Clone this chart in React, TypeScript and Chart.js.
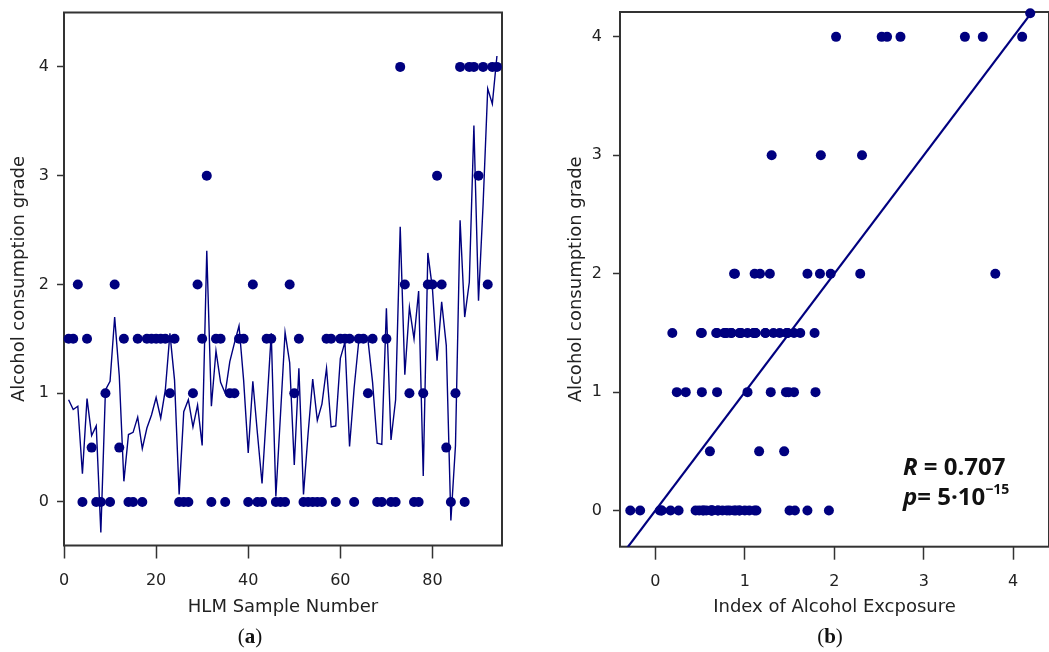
import React, { useEffect, useRef } from "react";
import { Chart, registerables } from "chart.js";

Chart.register(...registerables);

// ---- data ----
const SAMPLE_NUMBERS = [
  1, 2, 3, 4, 5, 6, 7, 8, 9, 10, 11, 12, 13, 14, 15, 16, 17, 18, 19, 20,
  21, 22, 23, 24, 25, 26, 27, 28, 29, 30, 31, 32, 33, 34, 35, 36, 37, 38, 39, 40,
  41, 42, 43, 44, 45, 46, 47, 48, 49, 50, 51, 52, 53, 54, 55, 56, 57, 58, 59, 60,
  61, 62, 63, 64, 65, 66, 67, 68, 69, 70, 71, 72, 73, 74, 75, 76, 77, 78, 79, 80,
  81, 82, 83, 84, 85, 86, 87, 88, 89, 90, 91, 92, 93, 94,
];

// observed alcohol consumption grade per sample
const GRADES = [
  1.5, 1.5, 2, 0, 1.5, 0.5, 0, 0, 1, 0, 2, 0.5, 1.5, 0, 0, 1.5, 0, 1.5, 1.5, 1.5,
  1.5, 1.5, 1, 1.5, 0, 0, 0, 1, 2, 1.5, 3, 0, 1.5, 1.5, 0, 1, 1, 1.5, 1.5, 0,
  2, 0, 0, 1.5, 1.5, 0, 0, 0, 2, 1, 1.5, 0, 0, 0, 0, 0, 1.5, 1.5, 0, 1.5,
  1.5, 1.5, 0, 1.5, 1.5, 1, 1.5, 0, 0, 1.5, 0, 0, 4, 2, 1, 0, 0, 1, 2, 2,
  3, 2, 0.5, 0, 1, 4, 0, 4, 4, 3, 4, 2, 4, 4,
];

// index of alcohol exposure (model output) per sample
const EXPOSURE_INDEX = [
  0.94, 0.85, 0.88, 0.26, 0.95, 0.61, 0.70, -0.28, 1.03, 1.11, 1.70, 1.16, 0.19, 0.62, 0.64, 0.78, 0.49, 0.68, 0.80, 0.96,
  0.77, 1.03, 1.55, 1.12, 0.07, 0.83, 0.94, 0.69, 0.89, 0.52, 2.31, 0.88, 1.39, 1.10, 1.00, 1.29, 1.46, 1.62, 1.12, 0.45,
  1.11, 0.63, 0.17, 0.85, 1.55, 0.05, 0.80, 1.56, 1.28, 0.34, 1.23, 0.07, 0.63, 1.13, 0.75, 0.90, 1.23, 0.69, 0.70, 1.32,
  1.47, 0.51, 1.05, 1.48, 1.47, 1.49, 1.10, 0.54, 0.53, 1.78, 0.57, 0.94, 2.53, 1.17, 1.79, 1.50, 1.94, 0.24, 2.29, 1.96,
  1.30, 1.84, 1.44, -0.17, 0.52, 2.59, 1.70, 2.02, 3.46, 1.85, 2.74, 3.80, 3.66, 4.10,
];

const X_TICKS_A = [0, 20, 40, 60, 80];
const X_TICKS_B = [0, 1, 2, 3, 4];
const Y_TICKS = [0, 1, 2, 3, 4];

const REG_SLOPE = 1.0;
const REG_INTERCEPT = 0.0;
const REG_X_RANGE = [-0.45, 4.19];
const END_POINT = [{ x: 4.19, y: 4.2 }];

const R_VALUE = "0.707";
const P_MANTISSA = "5";
const P_EXPONENT = "\u221215";

const NAVY = "#00007f";
const AXIS = "#333333";
const TEXT = "#222222";

const tickFont = { family: '"DejaVu Sans", sans-serif', size: 16 };
const titleFont = { family: '"DejaVu Sans", sans-serif', size: 18 };

const boxPlugin = {
  id: "box",
  beforeDatasetsDraw(chart: any) {
    const { ctx, chartArea: a } = chart;
    ctx.save();
    ctx.strokeStyle = AXIS;
    ctx.lineWidth = 2;
    ctx.strokeRect(a.left, a.top, a.right - a.left, a.bottom - a.top);
    ctx.restore();
  },
};

const statsPlugin = {
  id: "stats",
  afterDraw(chart: any) {
    const ctx = chart.ctx;
    const x0 = 363;
    ctx.save();
    ctx.fillStyle = "#111";
    ctx.textBaseline = "alphabetic";
    ctx.font = 'italic bold 24px "Open Sans", sans-serif';
    ctx.fillText("R", x0, 475);
    let w = ctx.measureText("R").width;
    ctx.font = 'bold 24px "Open Sans", sans-serif';
    ctx.fillText(" = " + R_VALUE, x0 + w, 475);

    ctx.font = 'italic bold 24px "Open Sans", sans-serif';
    ctx.fillText("p", x0, 505);
    w = ctx.measureText("p").width;
    ctx.font = 'bold 24px "Open Sans", sans-serif';
    const main = "= " + P_MANTISSA + "\u00b710";
    ctx.fillText(main, x0 + w, 505);
    const w2 = ctx.measureText(main).width;
    ctx.font = 'bold 14px "Open Sans", sans-serif';
    ctx.fillText(P_EXPONENT, x0 + w + w2, 494);
    ctx.restore();
  },
};

function axisCommon(tickVals: number[], tickLen: number, pad: number) {
  return {
    type: "linear" as const,
    afterBuildTicks: (s: any) => {
      s.ticks = tickVals.map((v) => ({ value: v }));
    },
    grid: {
      display: true,
      drawOnChartArea: false,
      drawTicks: true,
      tickLength: tickLen,
      tickColor: AXIS,
      tickWidth: 1.5,
    },
    border: { display: false },
    ticks: { font: tickFont, color: TEXT, padding: pad, maxRotation: 0 },
  };
}

function fitX(h: number) {
  return (s: any) => {
    s.height = h;
    s.paddingLeft = 0;
    s.paddingRight = 0;
    s.paddingTop = 0;
    s.paddingBottom = 0;
  };
}
function fitY(w: number) {
  return (s: any) => {
    s.width = w;
    s.paddingLeft = 0;
    s.paddingRight = 0;
    s.paddingTop = 0;
    s.paddingBottom = 0;
  };
}

export default function App() {
  const leftRef = useRef<HTMLCanvasElement>(null);
  const rightRef = useRef<HTMLCanvasElement>(null);

  useEffect(() => {
    const left = new Chart(leftRef.current as HTMLCanvasElement, {
      type: "scatter",
      data: {
        datasets: [
          {
            type: "line",
            data: SAMPLE_NUMBERS.map((n, k) => ({ x: n, y: EXPOSURE_INDEX[k] })),
            borderColor: NAVY,
            borderWidth: 1.4,
            pointRadius: 0,
            fill: false,
            tension: 0,
            order: 0,
          } as any,
          {
            type: "scatter",
            data: SAMPLE_NUMBERS.map((n, k) => ({ x: n, y: GRADES[k] })),
            backgroundColor: NAVY,
            borderColor: NAVY,
            borderWidth: 0,
            pointRadius: 5,
            order: 1,
            clip: false,
          } as any,
        ],
      },
      options: {
        responsive: false,
        animation: false,
        devicePixelRatio: 1,
        layout: { padding: { left: 0, top: 12.5, right: 18, bottom: 0 } },
        plugins: { legend: { display: false }, tooltip: { enabled: false } },
        scales: {
          x: {
            ...axisCommon(X_TICKS_A, 13, 13),
            min: 0,
            max: 95.1,
            afterFit: fitX(106.5),
            title: {
              display: true,
              text: "HLM Sample Number",
              font: titleFont,
              color: TEXT,
              padding: { top: 0, bottom: 34 },
            },
          } as any,
          y: {
            ...axisCommon(Y_TICKS, 7, 8),
            min: -0.4,
            max: 4.5,
            afterFit: fitY(64),
            title: {
              display: true,
              text: "Alcohol consumption grade",
              font: titleFont,
              color: TEXT,
              padding: { top: 9, bottom: 0 },
            },
          } as any,
        },
      },
      plugins: [boxPlugin],
    });

    const right = new Chart(rightRef.current as HTMLCanvasElement, {
      type: "scatter",
      data: {
        datasets: [
          {
            type: "line",
            data: REG_X_RANGE.map((x) => ({ x, y: REG_SLOPE * x + REG_INTERCEPT })),
            borderColor: NAVY,
            borderWidth: 2.2,
            pointRadius: 0,
            fill: false,
            order: 0,
          } as any,
          {
            type: "scatter",
            data: END_POINT,
            backgroundColor: NAVY,
            borderWidth: 0,
            pointRadius: 5,
            order: 1,
            clip: false,
          } as any,
          {
            type: "scatter",
            data: EXPOSURE_INDEX.map((x, k) => ({ x, y: GRADES[k] })),
            backgroundColor: NAVY,
            borderColor: NAVY,
            borderWidth: 0,
            pointRadius: 5,
            order: 2,
            clip: false,
          } as any,
        ],
      },
      options: {
        responsive: false,
        animation: false,
        devicePixelRatio: 1,
        layout: { padding: { left: 0, top: 12, right: 11, bottom: 0 } },
        plugins: { legend: { display: false }, tooltip: { enabled: false } },
        scales: {
          x: {
            ...axisCommon(X_TICKS_B, 13, 13),
            min: -0.395,
            max: 4.4,
            afterFit: fitX(105.3),
            title: {
              display: true,
              text: "Index of Alcohol Excposure",
              font: titleFont,
              color: TEXT,
              padding: { top: 0, bottom: 34 },
            },
          } as any,
          y: {
            ...axisCommon(Y_TICKS, 7, 11),
            min: -0.305,
            max: 4.21,
            afterFit: fitY(80),
            title: {
              display: true,
              text: "Alcohol consumption grade",
              font: titleFont,
              color: TEXT,
              padding: { top: 26, bottom: 0 },
            },
          } as any,
        },
      },
      plugins: [boxPlugin, statsPlugin],
    });

    return () => {
      left.destroy();
      right.destroy();
    };
  }, []);

  const labelStyle: React.CSSProperties = {
    position: "absolute",
    top: 623,
    width: 60,
    textAlign: "center",
    fontFamily: '"Liberation Serif", "DejaVu Serif", serif',
    fontSize: 21,
    lineHeight: "26px",
    color: "#111",
  };

  return (
    <div
      style={{
        position: "absolute",
        left: 0,
        top: 0,
        width: 1049,
        height: 652,
        overflow: "hidden",
        background: "#fff",
      }}
    >
      <canvas
        ref={leftRef}
        width={520}
        height={652}
        style={{ position: "absolute", left: 0, top: 0, width: 520, height: 652 }}
      />
      <canvas
        ref={rightRef}
        width={520}
        height={652}
        style={{ position: "absolute", left: 540, top: 0, width: 520, height: 652 }}
      />
      <div style={{ ...labelStyle, left: 250 - 30 }}>
        (<b>a</b>)
      </div>
      <div style={{ ...labelStyle, left: 830 - 30 }}>
        (<b>b</b>)
      </div>
    </div>
  );
}
